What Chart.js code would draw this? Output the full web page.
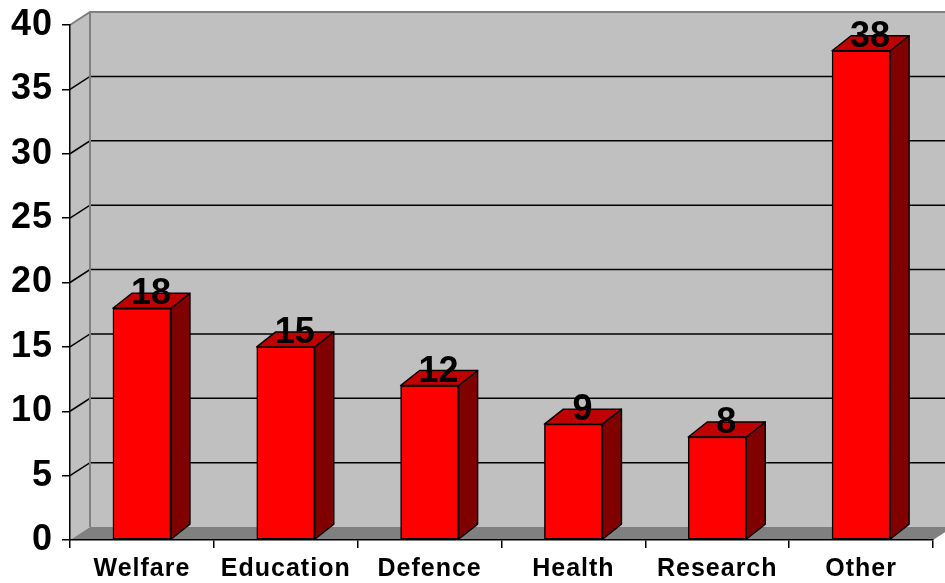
<!DOCTYPE html>
<html>
<head>
<meta charset="utf-8">
<script src="https://cdn.jsdelivr.net/npm/chart.js@4/dist/chart.umd.min.js"></script>
<style>
  html, body { margin: 0; padding: 0; background: #fff; }
  #wrap { width: 945px; height: 583px; }
</style>
</head>
<body>
<div id="wrap"><canvas id="spend"></canvas></div>
<script>
const categories = ['Welfare', 'Education', 'Defence', 'Health', 'Research', 'Other'];
const values = [18, 15, 12, 9, 8, 38];
const yMin = 0;
const yMax = 40;
const yStep = 5;

// 3D look: offset of the back wall and of each bar's depth
const WALL = { dx: 20, dy: -13 };
const BAR = { dx: 19, dy: -15 };

const fontName = '"Liberation Sans", Arial, sans-serif';

const threeD = {
  id: 'threeD',
  beforeDraw(chart) {
    const ctx = chart.ctx;
    const a = chart.chartArea;
    const y = chart.scales.y;
    const W = chart.width + 40;
    ctx.save();
    // left side wall
    ctx.fillStyle = '#c0c0c0';
    ctx.beginPath();
    ctx.moveTo(a.left, a.top);
    ctx.lineTo(a.left + WALL.dx, a.top + WALL.dy);
    ctx.lineTo(a.left + WALL.dx, a.bottom + WALL.dy);
    ctx.lineTo(a.left, a.bottom);
    ctx.closePath();
    ctx.fill();
    // back wall
    ctx.fillRect(a.left + WALL.dx, a.top + WALL.dy, W, a.bottom - a.top);
    // floor
    ctx.fillStyle = '#808080';
    ctx.beginPath();
    ctx.moveTo(a.left, a.bottom);
    ctx.lineTo(a.left + WALL.dx, a.bottom + WALL.dy);
    ctx.lineTo(a.right + WALL.dx, a.bottom + WALL.dy);
    ctx.lineTo(a.right, a.bottom);
    ctx.closePath();
    ctx.fill();
    // grid lines on side wall and back wall
    ctx.strokeStyle = '#000';
    ctx.lineWidth = 1.5;
    for (let v = yMin + yStep; v < yMax; v += yStep) {
      const py = y.getPixelForValue(v);
      ctx.beginPath();
      ctx.moveTo(a.left, py);
      ctx.lineTo(a.left + WALL.dx, py + WALL.dy);
      ctx.lineTo(W, py + WALL.dy);
      ctx.stroke();
    }
    // wall edges
    ctx.strokeStyle = '#808080';
    ctx.lineWidth = 2;
    ctx.beginPath();
    ctx.moveTo(a.left, a.top);
    ctx.lineTo(a.left + WALL.dx, a.top + WALL.dy);
    ctx.lineTo(W, a.top + WALL.dy);
    ctx.moveTo(a.left + WALL.dx, a.top + WALL.dy);
    ctx.lineTo(a.left + WALL.dx, a.bottom + WALL.dy);
    ctx.stroke();
    ctx.restore();
    // axis labels in the original are slightly spaced out
    ctx.letterSpacing = '1px';
  },
  beforeDatasetsDraw(chart) {
    chart.ctx.letterSpacing = '0px';
  },
  afterDatasetsDraw(chart) {
    const ctx = chart.ctx;
    const meta = chart.getDatasetMeta(0);
    ctx.save();
    ctx.strokeStyle = '#000';
    ctx.lineWidth = 1.5;
    ctx.lineJoin = 'round';
    meta.data.forEach((bar, i) => {
      const p = bar.getProps(['x', 'y', 'base', 'width'], true);
      const xl = p.x - p.width / 2;
      const xr = p.x + p.width / 2;
      // side face
      ctx.fillStyle = '#800000';
      ctx.beginPath();
      ctx.moveTo(xr, p.y);
      ctx.lineTo(xr + BAR.dx, p.y + BAR.dy);
      ctx.lineTo(xr + BAR.dx, p.base + BAR.dy);
      ctx.lineTo(xr, p.base);
      ctx.closePath();
      ctx.fill();
      ctx.stroke();
      // top face
      ctx.fillStyle = '#c00000';
      ctx.beginPath();
      ctx.moveTo(xl, p.y);
      ctx.lineTo(xl + BAR.dx, p.y + BAR.dy);
      ctx.lineTo(xr + BAR.dx, p.y + BAR.dy);
      ctx.lineTo(xr, p.y);
      ctx.closePath();
      ctx.fill();
      ctx.stroke();
      // value label
      ctx.fillStyle = '#000';
      ctx.font = 'bold 36px ' + fontName;
      ctx.textAlign = 'center';
      ctx.textBaseline = 'alphabetic';
      ctx.fillText(String(values[i]), p.x + 9, p.y - 4);
    });
    ctx.restore();
  }
};

const ctx = document.getElementById('spend').getContext('2d');
new Chart(ctx, {
  type: 'bar',
  data: {
    labels: categories,
    datasets: [{
      data: values,
      backgroundColor: '#ff0000',
      borderColor: '#000',
      borderWidth: 1.5,
      borderSkipped: false,
      barThickness: 58
    }]
  },
  options: {
    responsive: true,
    maintainAspectRatio: false,
    animation: false,
    layout: { padding: { top: 25, right: 12, left: 0, bottom: 0 } },
    plugins: {
      legend: { display: false },
      tooltip: { enabled: false }
    },
    scales: {
      x: {
        grid: {
          display: true, drawOnChartArea: false, drawTicks: true,
          tickLength: 8, color: '#000', lineWidth: 1.5, offset: true
        },
        border: { display: true, color: '#000', width: 1.5 },
        ticks: {
          color: '#000',
          padding: 6,
          maxRotation: 0,
          font: { family: fontName, size: 25, weight: 'bold' }
        },
        afterFit(scale) { scale.height = 43; }
      },
      y: {
        min: yMin,
        max: yMax,
        grid: {
          display: true, drawOnChartArea: false, drawTicks: true,
          tickLength: 8, color: '#000', lineWidth: 1.5
        },
        border: { display: true, color: '#000', width: 1.5 },
        ticks: {
          stepSize: yStep,
          color: '#000',
          padding: 9,
          font: { family: fontName, size: 36, weight: 'bold' }
        },
        afterFit(scale) {
          scale.width = 70;
          scale.paddingTop = 0;
          scale.paddingBottom = 0;
        }
      }
    }
  },
  plugins: [threeD]
});
</script>
</body>
</html>
